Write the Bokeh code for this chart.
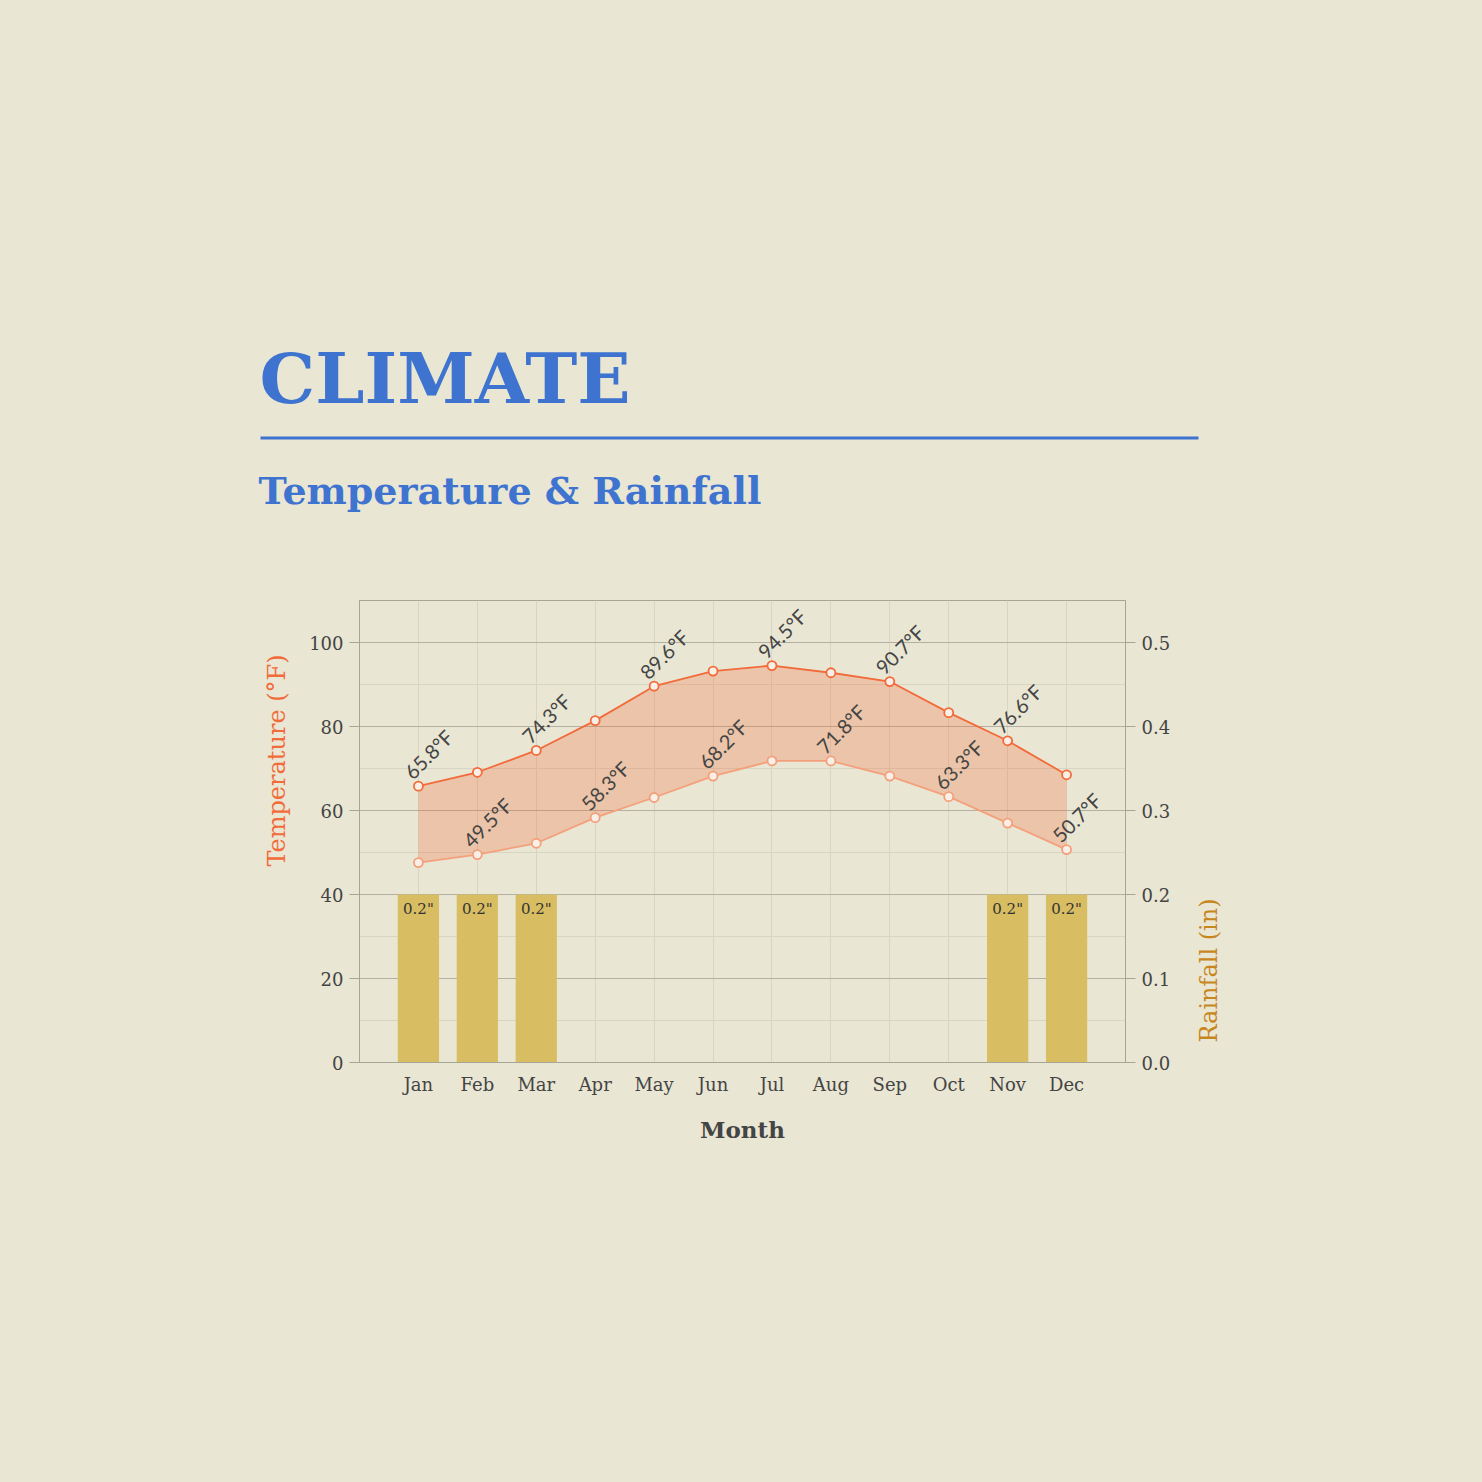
import math
from bokeh.plotting import figure
from bokeh.layouts import column, row
from bokeh.models import (ColumnDataSource, Range1d, LinearAxis, FixedTicker,
                          SingleIntervalTicker, PrintfTickFormatter)
from bokeh.core.properties import value
from bokeh.embed import file_html
from bokeh.resources import INLINE

months = ["Jan", "Feb", "Mar", "Apr", "May", "Jun", "Jul", "Aug", "Sep", "Oct", "Nov", "Dec"]
temp_high = [65.8, 69.1, 74.3, 81.4, 89.6, 93.2, 94.5, 92.8, 90.7, 83.3, 76.6, 68.5]
temp_low = [47.6, 49.5, 52.2, 58.3, 63.1, 68.2, 71.8, 71.8, 68.2, 63.3, 57.0, 50.7]
rainfall = [0.2, 0.2, 0.2, 0.0, 0.0, 0.0, 0.0, 0.0, 0.0, 0.0, 0.2, 0.2]

# labels alternate between high and low series
label_on_high = [True, False, True, False, True, False, True, False, True, False, True, False]

title_text = "CLIMATE"
subtitle_text = "Temperature & Rainfall"
y_title = "Temperature (°F)"
y2_title = "Rainfall (in)"
x_title = "Month"

BG = "#e9e6d4"
BLUE = "#3e74d0"
ORANGE = "#f26b3a"
LIGHT_ORANGE = "#f4a07c"
GOLD = "#d8bd62"
RAIN_LABEL = "#c8871e"
TEXT = "#444444"
AXIS = "#a8a597"
SERIF = "DejaVu Serif"


def blank(width, height):
    f = figure(width=width, height=height, output_backend="svg", toolbar_location=None,
               x_range=Range1d(0, width), y_range=Range1d(0, height),
               min_border=0, background_fill_color=BG, border_fill_color=BG)
    f.axis.visible = False
    f.grid.visible = False
    f.outline_line_color = None
    f.frame_align = False
    return f


# ---------------- header ----------------
HH = 598
h = blank(1482, HH)
h.text(x=[259], y=[HH - 378], text=[title_text], text_align="left", text_baseline="alphabetic",
       text_font=value(SERIF), text_font_size="70px", text_font_style="bold", text_color=BLUE)
h.segment(x0=[260], y0=[HH - 437.5], x1=[1198], y1=[HH - 437.5], line_color=BLUE, line_width=3)
h.text(x=[258], y=[HH - 490], text=[subtitle_text], text_align="left", text_baseline="alphabetic",
       text_font=value(SERIF), text_font_size="38px", text_font_style="bold", text_color=BLUE)

# ---------------- side label strips ----------------
CH = 884
LW, MW, RW = 300, 890, 292
left = blank(LW, CH)
left.text(x=[276], y=[CH - (760 - HH)], text=[y_title], angle=math.pi / 2,
          text_align="center", text_baseline="middle",
          text_font=value(SERIF), text_font_size="24px", text_color=ORANGE)
right = blank(RW, CH)
right.text(x=[18], y=[CH - (970 - HH)], text=[y2_title], angle=math.pi / 2,
           text_align="center", text_baseline="middle",
           text_font=value(SERIF), text_font_size="24px", text_color=RAIN_LABEL)

# ---------------- chart ----------------
xs = list(range(1, len(months) + 1))
src = ColumnDataSource(dict(x=xs, hi=temp_high, lo=temp_low, rain=rainfall))

lab_x, lab_y, lab_t = [], [], []
for i in range(len(months)):
    v = temp_high[i] if label_on_high[i] else temp_low[i]
    lab_x.append(xs[i]); lab_y.append(v); lab_t.append(f"{v:.1f}°F")
lab_src = ColumnDataSource(dict(x=lab_x, y=lab_y, t=lab_t))

bx = [xs[i] for i in range(len(months)) if rainfall[i] > 0]
br = [rainfall[i] for i in range(len(months)) if rainfall[i] > 0]
bar_src = ColumnDataSource(dict(x=bx, r=br, t=[f'{r:.1f}"' for r in br]))

p = figure(width=MW, height=CH, output_backend="svg", toolbar_location=None,
           x_range=Range1d(0, 13), y_range=Range1d(0, 110),
           min_border_left=59, min_border_right=65, min_border_top=2, min_border_bottom=420,
           background_fill_color=BG, border_fill_color=BG)
p.extra_y_ranges = {"rain": Range1d(0, 0.55)}
p.outline_line_color = AXIS
p.outline_line_width = 1

# bars
p.vbar(x="x", top="r", width=0.7, bottom=0, source=bar_src, y_range_name="rain",
       fill_color=GOLD, line_color=None)
p.text(x="x", y="r", text="t", source=bar_src, y_range_name="rain",
       text_align="center", text_baseline="middle", y_offset=14,
       text_font=value(SERIF), text_font_size="15px", text_color="#333333")

# temperature band
p.varea(x="x", y1="lo", y2="hi", source=src, fill_color=ORANGE, fill_alpha=0.28)
p.line(x="x", y="hi", source=src, line_color=ORANGE, line_width=1.8)
p.line(x="x", y="lo", source=src, line_color=LIGHT_ORANGE, line_width=1.8)
p.scatter(x="x", y="hi", source=src, size=9, fill_color="#f8efe6", line_color=ORANGE, line_width=1.8)
p.scatter(x="x", y="lo", source=src, size=9, fill_color="#f8efe6", line_color=LIGHT_ORANGE, line_width=1.8)

p.text(x="x", y="y", text="t", source=lab_src, angle=math.pi / 4,
       text_align="center", text_baseline="middle", x_offset=10, y_offset=-32,
       text_font=value("Lato"), text_font_size="20px", text_color=TEXT)

# axes
p.xaxis.ticker = FixedTicker(ticks=xs)
p.xaxis.major_label_overrides = {x: m for x, m in zip(xs, months)}
p.xaxis.major_tick_line_color = None
p.xaxis.minor_tick_line_color = None
p.xaxis.axis_line_color = AXIS
p.xaxis.axis_label = x_title
p.xaxis.axis_label_text_font = SERIF
p.xaxis.axis_label_text_font_size = "23px"
p.xaxis.axis_label_text_font_style = "bold"
p.xaxis.axis_label_text_color = TEXT
p.xaxis.axis_label_standoff = 18
p.xaxis.major_label_text_font = SERIF
p.xaxis.major_label_text_font_size = "18px"
p.xaxis.major_label_text_color = TEXT
p.xaxis.major_label_standoff = 5

p.yaxis.ticker = SingleIntervalTicker(interval=20, num_minor_ticks=2)
p.yaxis.major_tick_out = 10
p.yaxis.major_tick_in = 0
p.yaxis.minor_tick_line_color = None
p.yaxis.major_tick_line_color = AXIS
p.yaxis.axis_line_color = AXIS
p.yaxis.major_label_text_font = SERIF
p.yaxis.major_label_text_font_size = "18px"
p.yaxis.major_label_text_color = TEXT
p.yaxis.major_label_standoff = 6

ra = LinearAxis(y_range_name="rain", ticker=SingleIntervalTicker(interval=0.1),
                formatter=PrintfTickFormatter(format="%.1f"))
ra.major_tick_out = 10
ra.major_tick_in = 0
ra.minor_tick_line_color = None
ra.major_tick_line_color = AXIS
ra.axis_line_color = AXIS
ra.major_label_text_font = SERIF
ra.major_label_text_font_size = "18px"
ra.major_label_text_color = TEXT
ra.major_label_standoff = 6
p.add_layout(ra, "right")

# grids
p.xgrid.grid_line_color = "#d9d5c3"
p.ygrid.grid_line_color = "#b3b0a3"
p.ygrid.minor_grid_line_color = "#d9d5c3"

layout = column(h, row(left, p, right, spacing=0), spacing=0,
                styles={"background-color": BG})
open("out.html", "w").write(file_html(layout, INLINE))
